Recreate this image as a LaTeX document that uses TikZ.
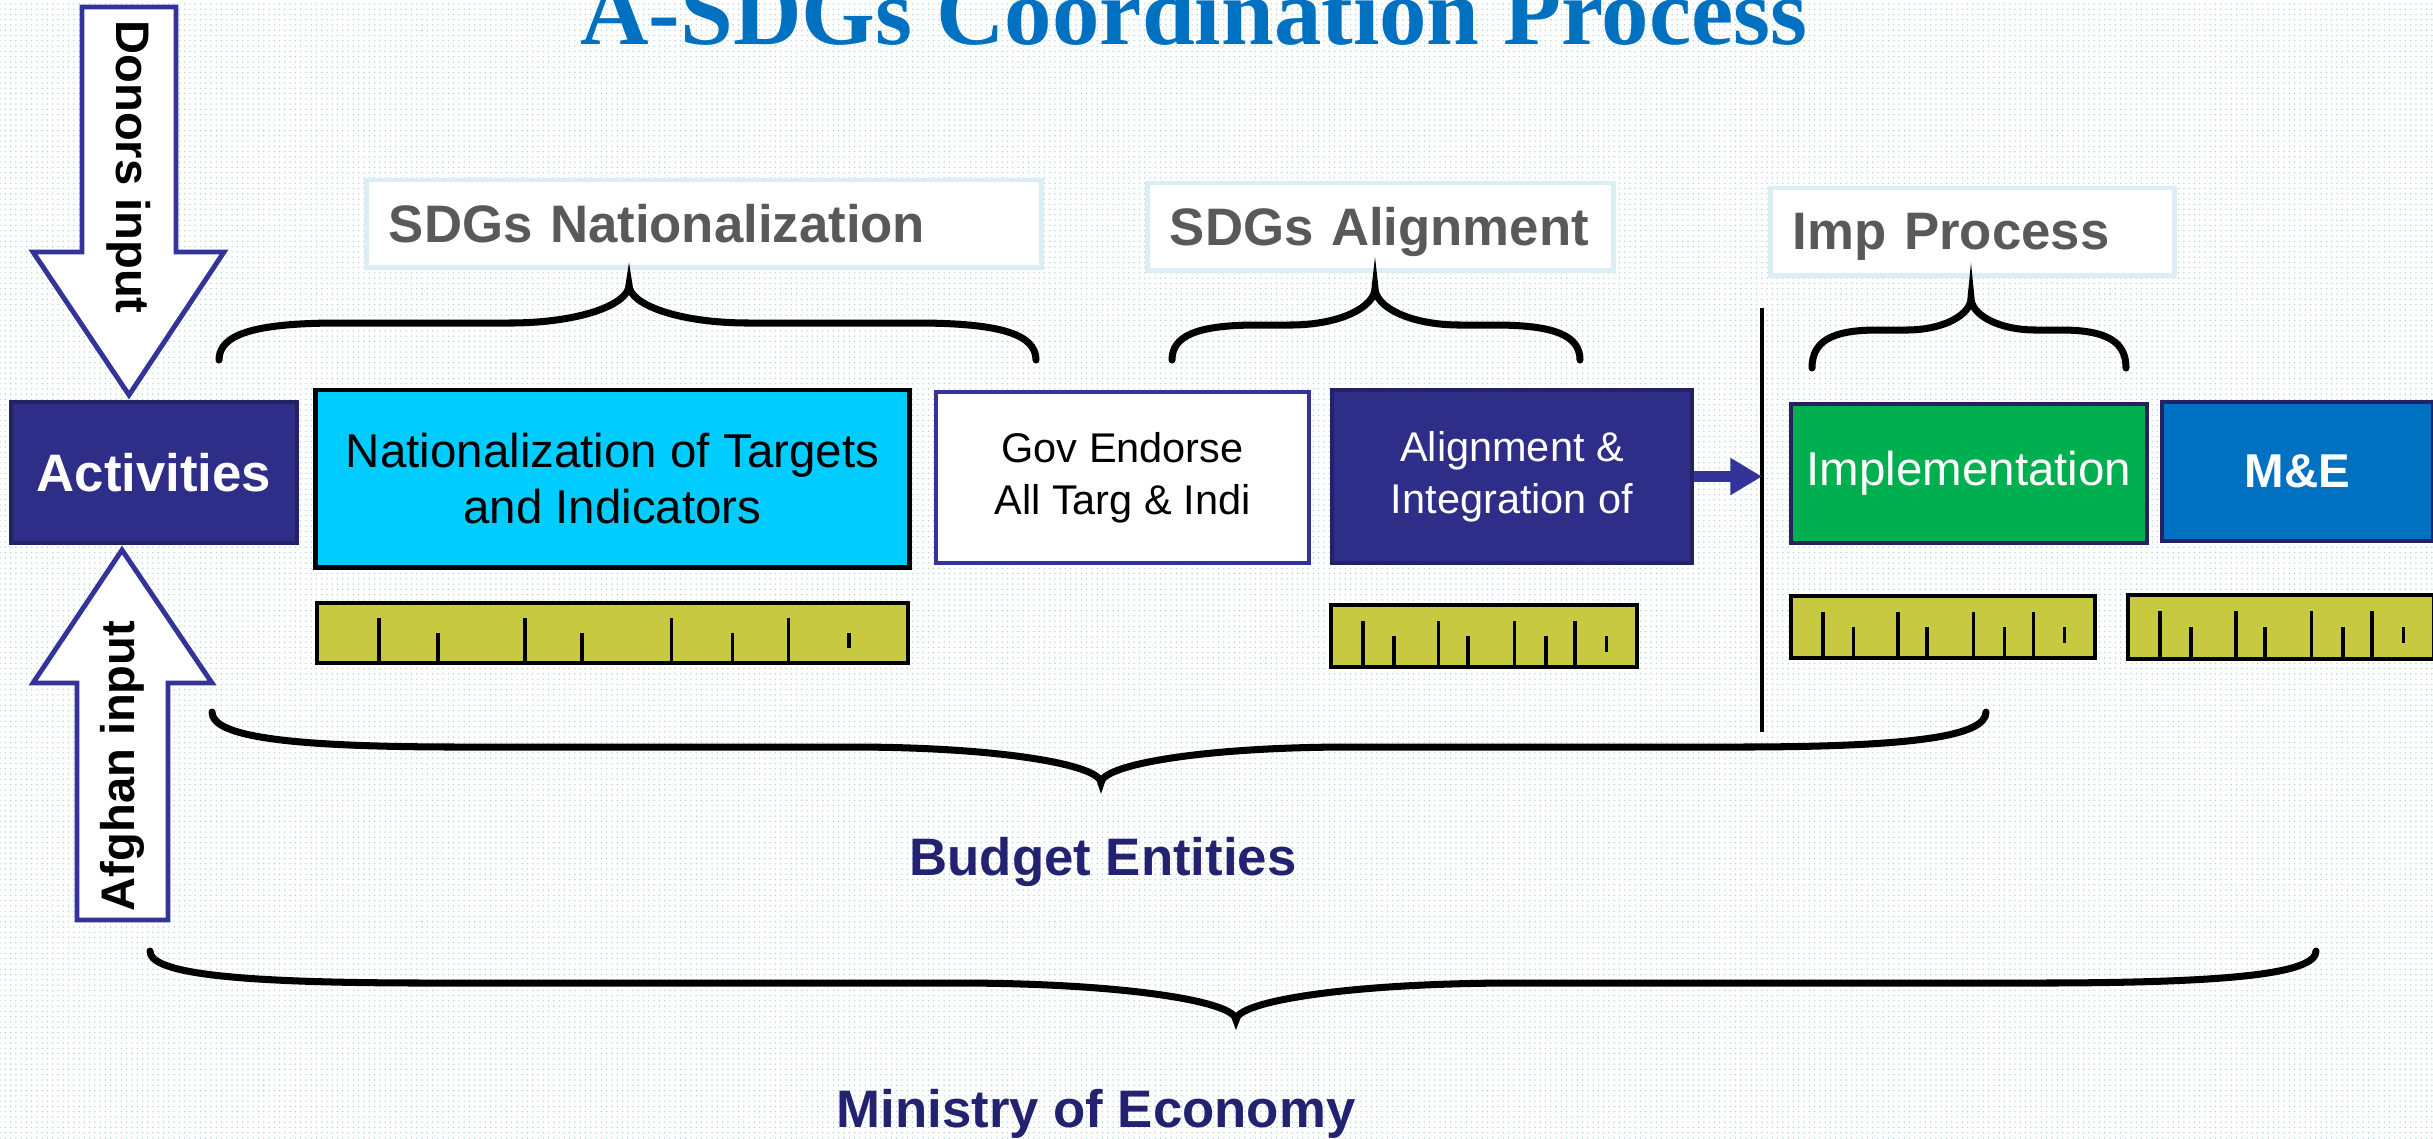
\documentclass[tikz,border=0pt]{standalone}
\usepackage{fontspec}
\setmainfont{Liberation Sans}
\newfontfamily\titlefont{Liberation Serif}
\usepackage{xcolor}
\usetikzlibrary{arrows.meta,patterns.meta}

\definecolor{navyfill}{RGB}{46,46,136}
\definecolor{navyline}{RGB}{35,35,100}
\definecolor{arrowblue}{RGB}{51,51,153}
\definecolor{natcyan}{RGB}{0,204,255}
\definecolor{implgreen}{RGB}{0,176,80}
\definecolor{meblue}{RGB}{0,112,192}
\definecolor{rulerolive}{RGB}{199,201,65}
\definecolor{labelframe}{RGB}{218,238,243}
\definecolor{labelgray}{RGB}{89,89,89}
\definecolor{titleblue}{RGB}{0,112,192}
\definecolor{entitynavy}{RGB}{34,34,112}
\definecolor{dotteal}{RGB}{175,210,210}

\tikzset{
	box/.style={rectangle, inner sep=0pt, align=center, line width=1.1pt},
	darkbox/.style={box, fill=navyfill, draw=navyline, text=white},
	phaselabel/.style={rectangle, draw=labelframe, line width=1.4pt, fill=white, inner xsep=0.22cm, inner ysep=0pt, align=left, text=labelgray, font=\fontsize{15pt}{18pt}\selectfont\bfseries, text depth=0pt, minimum height=0.87cm},
	curly/.style={line width=2pt, line cap=round},
	rulerbox/.style={draw=black, fill=rulerolive, line width=1.1pt},
	rulertick/.style={line width=1pt},
	blockarrow/.style={draw=arrowblue, fill=white, line width=1.4pt, line join=miter},
	inputtext/.style={font=\fontsize{13.4pt}{16pt}\selectfont\bfseries, inner sep=0pt},
	bottomtext/.style={font=\fontsize{15pt}{18pt}\selectfont\bfseries, text=entitynavy, anchor=base},
}

\newcommand{\drawruler}[4]{%
	\draw[rulerbox] (#1,#2) rectangle (#3,#4);
	\foreach \tk/\hh in {.105/.75,.352/.75,.6/.75,.798/.75,.205/.5,.448/.5,.703/.5}
		\draw[rulertick] ({#1+\tk*(#3-#1)},#4) -- ({#1+\tk*(#3-#1)},{#4-\hh*(#4-#2)});
	\draw[rulertick] ({#1+.9*(#3-#1)},{#2+.5*(#4-#2)}) -- ({#1+.9*(#3-#1)},{#2+.75*(#4-#2)});
}

\newcommand{\curlybrace}[7]{%
	\draw[curly] (#1,#3) .. controls (#1,{#4+0.3*(#3-#4)}) and ({#1+0.3*#7},#4) .. ({#1+#7},#4)
		-- ({#5-#7},#4) .. controls ({#5-0.4*#7},#4) and (#5,{#4+0.5*(#6-#4)}) .. (#5,#6)
		.. controls (#5,{#4+0.5*(#6-#4)}) and ({#5+0.4*#7},#4) .. ({#5+#7},#4)
		-- ({#2-#7},#4) .. controls ({#2-0.3*#7},#4) and (#2,{#4+0.3*(#3-#4)}) .. (#2,#3);
}

\begin{document}
\begin{tikzpicture}[x=0.01cm, y=-0.01cm]
	\useasboundingbox (0,0) rectangle (2433,1138);
	\fill[white] (0,0) rectangle (2433,1138);
	\fill[pattern={Dots[distance=1.5pt, radius=0.22pt]}, pattern color=dotteal] (0,0) rectangle (2433,1138);

	\node[font=\titlefont\fontsize{27pt}{32pt}\selectfont\bfseries, text=titleblue, anchor=base] (title) at (1194,44) {A-SDGs Coordination Process};

	\node[phaselabel, text width=6.30cm] (labnat) at (704,223.5) {SDGs Nationalization};
	\node[phaselabel, text width=4.21cm] (labalign) at (1380.5,226.5) {SDGs Alignment};
	\node[phaselabel, text width=3.59cm] (labimp) at (1972.5,231.5) {Imp Process};

	\curlybrace{219}{1036}{360}{323}{629}{285}{120}
	\curlybrace{1172}{1580}{360}{325}{1375}{288}{85}
	\curlybrace{1812}{2126}{368}{330}{1971}{298}{65}

	\draw[blockarrow] (82,7) -- (176,7) -- (176,252) -- (224,252) -- (129,395) -- (33,252) -- (82,252) -- cycle;
	\node[inputtext, rotate=-90] (donors) at (129,167) {Donors input};
	\draw[blockarrow] (77,920) -- (168,920) -- (168,683) -- (212,683) -- (122,550) -- (33,683) -- (77,683) -- cycle;
	\node[inputtext, rotate=90] (afghan) at (122,766) {Afghan input};

	\node[darkbox, minimum width=2.86cm, minimum height=1.41cm, font=\fontsize{15pt}{18pt}\selectfont\bfseries] (act) at (154,472.5) {Activities};
	\node[box, fill=natcyan, draw=black, line width=1.4pt, minimum width=5.93cm, minimum height=1.77cm, font=\fontsize{13.5pt}{16.2pt}\selectfont] (natbox) at (612.5,478.5) {Nationalization of Targets\\and Indicators};
	\node[box, fill=white, draw=arrowblue, minimum width=3.73cm, minimum height=1.71cm, font=\fontsize{11.8pt}{14.8pt}\selectfont] (govbox) at (1122.5,477.5) {Gov Endorse\\All Targ \& Indi};
	\node[darkbox, minimum width=3.6cm, minimum height=1.73cm, font=\fontsize{11.8pt}{14.8pt}\selectfont] (alignbox) at (1512,476.5) {Alignment \&\\Integration of};
	\node[box, fill=implgreen, draw=navyline, text=white, minimum width=3.56cm, minimum height=1.39cm, font=\fontsize{13.5pt}{16pt}\selectfont] (implbox) at (1969,473.5) {Implementation};
	\node[box, fill=meblue, draw=navyline, text=white, minimum width=2.71cm, minimum height=1.39cm, font=\fontsize{13.5pt}{16pt}\selectfont\bfseries] (mebox) at (2297.5,471.5) {M\&E};

	\coordinate (vtop) at (1762,308);
	\coordinate (vbot) at (1762,732);
	\draw[line width=1.2pt] (vtop) -- (vbot);
	\draw[-{Triangle[length=9pt,width=10pt]}, arrowblue, line width=3.4pt] (alignbox.east) -- (alignbox.east -| vtop);

	\drawruler{317}{603}{908}{663}
	\drawruler{1331}{605}{1637}{667}
	\drawruler{1791}{596}{2095}{658}
	\drawruler{2128}{595}{2434}{659}

	\curlybrace{212}{1986}{712}{747}{1101}{783}{250}
	\node[bottomtext] (budget) at (1103,875) {Budget Entities};

	\curlybrace{150}{2316}{951}{983}{1236}{1020}{280}
	\node[bottomtext] (ministry) at (1096,1127) {Ministry of Economy};
\end{tikzpicture}
\end{document}
